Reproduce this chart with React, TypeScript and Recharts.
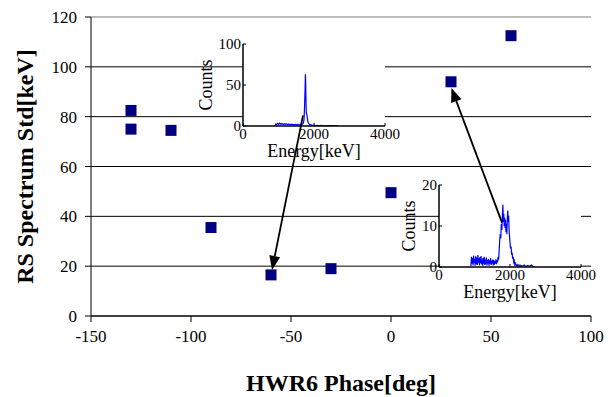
import React from 'react';
import { ScatterChart, Scatter, XAxis, YAxis, CartesianGrid, ReferenceLine, LineChart, Line } from 'recharts';

// main scatter: RS spectrum std vs HWR6 phase
const phase = [-130, -130, -110, -90, -60, -30, 0, 30, 60];
const rsStd = [82.5, 75, 74.5, 35.5, 16.5, 19, 49.5, 94, 112.5];
const phaseTicks = [-150, -100, -50, 0, 50, 100];
const stdTicks = [0, 20, 40, 60, 80, 100, 120];

// inset spectra [energy keV, counts]
const spectrumLow = [
  [900, 0], [925, 2.5], [950, 1.6], [975, 3.2], [1000, 2.0], [1025, 3.4], [1050, 2.3], [1075, 3.0],
  [1100, 2.1], [1125, 2.8], [1150, 1.8], [1175, 2.7], [1200, 2.0], [1225, 2.6], [1250, 1.7], [1275, 2.4],
  [1300, 1.6], [1325, 2.3], [1350, 1.5], [1375, 2.2], [1400, 1.4], [1425, 2.0], [1450, 1.3], [1475, 1.9],
  [1500, 1.4], [1525, 1.9], [1550, 1.2], [1575, 1.8], [1600, 1.5], [1625, 2.0], [1650, 1.7], [1675, 2.5],
  [1700, 3.4], [1720, 8], [1735, 25], [1750, 48], [1758, 63], [1766, 52], [1775, 28], [1785, 15],
  [1800, 14], [1815, 9], [1830, 5], [1850, 3], [1870, 2], [1890, 1.2], [1910, 1.6], [1930, 0.6],
  [1950, 1.1], [1975, 0.4], [2000, 0.9], [2050, 0.3], [2100, 0.8], [2150, 0.2], [2200, 0.7], [2250, 0.3],
  [2300, 0.6], [2350, 0.2], [2400, 0.5], [2450, 0.1], [2500, 0.4], [2550, 0.1], [2600, 0.3], [2650, 0.1],
  [2700, 0],
];
const spectrumHigh = [
  [900, 0.2], [915, 2.5], [930, 0.8], [945, 2.2], [960, 0.4], [975, 2.8], [990, 1.0], [1005, 2.0],
  [1020, 0.3], [1035, 2.6], [1050, 0.7], [1065, 2.3], [1080, 0.5], [1095, 2.9], [1110, 1.1], [1125, 2.1],
  [1140, 0.4], [1155, 2.4], [1170, 0.9], [1185, 2.7], [1200, 0.6], [1215, 1.9], [1230, 0.3], [1245, 2.2],
  [1260, 0.8], [1275, 2.5], [1290, 0.5], [1305, 1.8], [1320, 0.7], [1335, 2.3], [1350, 0.4], [1365, 1.7],
  [1380, 0.9], [1395, 2.0], [1410, 0.3], [1425, 1.6], [1440, 0.8], [1455, 2.1], [1470, 0.5], [1485, 1.5],
  [1500, 0.9], [1515, 1.8], [1530, 0.4], [1545, 1.7], [1560, 0.6], [1575, 1.4], [1590, 0.8], [1605, 1.9],
  [1620, 0.7], [1635, 1.6], [1650, 1.2], [1665, 2.5], [1680, 1.8], [1695, 4.0], [1710, 6.5], [1725, 8.0],
  [1740, 7.0], [1755, 10.5], [1770, 9.0], [1785, 12.5], [1800, 15.2], [1812, 11.0], [1825, 13.0], [1837, 10.0],
  [1850, 12.0], [1862, 9.5], [1875, 11.5], [1887, 8.5], [1900, 10.5], [1912, 8.0], [1925, 12.0], [1937, 13.8],
  [1950, 11.0], [1962, 12.5], [1975, 9.0], [1987, 7.5], [2000, 6.0], [2015, 4.5], [2030, 5.0], [2045, 3.0],
  [2060, 3.5], [2075, 2.0], [2090, 2.5], [2105, 1.2], [2120, 1.5], [2135, 0.6], [2150, 0.9], [2175, 0.3],
  [2200, 0.6], [2225, 0.2], [2250, 0.5], [2275, 0.1], [2300, 0.4], [2350, 0.2], [2400, 0.5], [2450, 0.1],
  [2500, 0.4], [2550, 0.2], [2600, 0.5], [2650, 0.1], [2700, 0],
];
const energyTicks = [0, 2000, 4000];
const countsLowTicks = [0, 50, 100];
const countsHighTicks = [0, 10, 20];

// arrows in main-chart data coords: [fromPhase, fromStd, toPhase, toStd]
const arrowLow = [-44, 80.5, -59.5, 18.5];
const arrowHigh = [55.5, 37.5, 30.2, 91.5];

const serif = 'Liberation Serif, Times New Roman, Times, serif';

const Square = (p: any) => (
  <rect x={p.cx - 5.5} y={p.cy - 5.5} width={11} height={11} fill="#000080" />
);

const VTitle = (p: any) => {
  const vb = p.viewBox || {};
  const x = (vb.x ?? 0) + p.ox;
  const y = (vb.y ?? 0) + (vb.height ?? 0) / 2;
  return (
    <text x={x} y={y} transform={`rotate(-90, ${x}, ${y})`} textAnchor="middle" dominantBaseline="central"
      style={{ fontFamily: serif }} fontSize={p.fs} fontWeight={p.fw} fill="#000">{p.text}</text>
  );
};

const HTitle = (p: any) => {
  const vb = p.viewBox || {};
  const x = (vb.x ?? 0) + (vb.width ?? 0) / 2;
  const y = (vb.y ?? 0) + p.oy;
  return (
    <text x={x} y={y} textAnchor="middle" dominantBaseline="central"
      style={{ fontFamily: serif }} fontSize={p.fs} fontWeight={p.fw} fill="#000">{p.text}</text>
  );
};

const Arrow = (p: any) => {
  const { x1, y1, x2, y2 } = p;
  const dx = x2 - x1;
  const dy = y2 - y1;
  const len = Math.hypot(dx, dy) || 1;
  const ux = dx / len;
  const uy = dy / len;
  const hl = 14;
  const hw = 5.5;
  const bx = x2 - ux * hl;
  const by = y2 - uy * hl;
  return (
    <g>
      <line x1={x1} y1={y1} x2={bx} y2={by} stroke="#000" strokeWidth={1.8} />
      <polygon points={`${x2},${y2} ${bx - uy * hw},${by + ux * hw} ${bx + uy * hw},${by - ux * hw}`} fill="#000" />
    </g>
  );
};

interface InsetProps {
  spectrum: number[][];
  yMax: number;
  yTicks: number[];
  left: number;
  top: number;
  yWidth: number;
  titleX: number;
}

const Inset = ({ spectrum, yMax, yTicks, left, top, yWidth, titleX }: InsetProps) => {
  const data = spectrum.map(([e, c]) => ({ e, c }));
  const tickStyle = { fill: '#000', fontSize: 15, fontFamily: serif };
  const axisLine = { stroke: '#000', strokeWidth: 1.5 };
  return (
    <div style={{ position: 'absolute', left, top }}>
      <LineChart width={yWidth + 142 + 30} height={140} data={data} margin={{ top: 15, right: 30, left: 0, bottom: 0 }}>
        <CartesianGrid horizontal={false} vertical={false} fill="#fff" fillOpacity={1} />
        <XAxis xAxisId="b" type="number" dataKey="e" domain={[0, 4000]} ticks={energyTicks} interval={0}
          height={43} stroke="#000" axisLine={axisLine} tickSize={-3} tickMargin={5} tick={tickStyle} allowDataOverflow
          label={<HTitle text="Energy[keV]" oy={25} fs={18} fw="normal" />} />
        <XAxis xAxisId="t" orientation="top" type="number" domain={[0, 4000]} ticks={energyTicks} height={0}
          stroke="#000" axisLine={axisLine} tickSize={-3} tick={false} allowDataOverflow />
        <YAxis yAxisId="l" type="number" domain={[0, yMax]} ticks={yTicks} interval={0} width={yWidth}
          stroke="#000" axisLine={axisLine} tickSize={-3} tickMargin={5} tick={tickStyle} allowDataOverflow
          label={<VTitle text="Counts" ox={titleX} fs={18} fw="normal" />} />
        <YAxis yAxisId="r" orientation="right" type="number" domain={[0, yMax]} ticks={yTicks} width={0}
          stroke="#000" axisLine={axisLine} tickSize={-3} tick={false} allowDataOverflow />
        <Line xAxisId="b" yAxisId="l" type="linear" dataKey="c" stroke="#0000ff" strokeWidth={1.2}
          dot={false} isAnimationActive={false} />
      </LineChart>
    </div>
  );
};

export default function App() {
  const points = phase.map((x, i) => ({ x, y: rsStd[i] }));
  const tickStyle = { fill: '#000', fontSize: 17, fontFamily: serif };
  const margin = { top: 17, right: 19, left: 0, bottom: 0 };

  return (
    <div style={{ position: 'absolute', left: 0, top: 0, width: 610, height: 397, background: '#fff', fontFamily: serif }}>
      <div style={{ position: 'absolute', left: 0, top: 0 }}>
        <ScatterChart width={610} height={397} margin={margin}>
          <CartesianGrid horizontal vertical={false} stroke="#000" />
          <XAxis type="number" dataKey="x" domain={[-150, 100]} ticks={phaseTicks} interval={0} height={81}
            stroke="#000" tickSize={6} tickMargin={8} tick={tickStyle}
            label={<HTitle text="HWR6 Phase[deg]" oy={67} fs={24} fw="bold" />} />
          <YAxis type="number" dataKey="y" domain={[0, 120]} ticks={stdTicks} interval={0} width={91}
            stroke="#000" tickSize={6} tickMargin={8} tick={tickStyle}
            label={<VTitle text="RS Spectrum Std[keV]" ox={25} fs={24} fw="bold" />} />
          <ReferenceLine y={120} stroke="#bdbdbd" strokeWidth={2} />
          <Scatter data={points} shape={Square} isAnimationActive={false} />
        </ScatterChart>
      </div>

      <Inset spectrum={spectrumLow} yMax={100} yTicks={countsLowTicks} left={190} top={29} yWidth={53} titleX={16} />
      <Inset spectrum={spectrumHigh} yMax={20} yTicks={countsHighTicks} left={380} top={170} yWidth={59} titleX={29} />

      <div style={{ position: 'absolute', left: 0, top: 0, pointerEvents: 'none' }}>
        <ScatterChart width={610} height={397} margin={{ top: 17, right: 19, left: 91, bottom: 81 }}>
          <XAxis type="number" dataKey="x" domain={[-150, 100]} hide allowDataOverflow />
          <YAxis type="number" dataKey="y" domain={[0, 120]} hide allowDataOverflow />
          <ReferenceLine segment={[{ x: arrowLow[0], y: arrowLow[1] }, { x: arrowLow[2], y: arrowLow[3] }]}
            ifOverflow="visible" shape={Arrow} />
          <ReferenceLine segment={[{ x: arrowHigh[0], y: arrowHigh[1] }, { x: arrowHigh[2], y: arrowHigh[3] }]}
            ifOverflow="visible" shape={Arrow} />
        </ScatterChart>
      </div>
    </div>
  );
}
